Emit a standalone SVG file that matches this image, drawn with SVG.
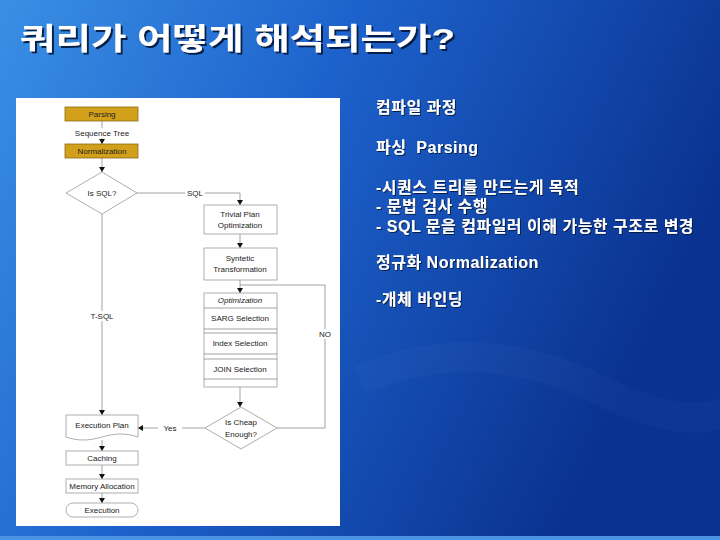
<svg xmlns="http://www.w3.org/2000/svg" width="720" height="540" viewBox="0 0 720 540">
  <defs>
    <linearGradient id="bg" x1="0" y1="0" x2="1" y2="0.35">
      <stop offset="0" stop-color="#3a8fe4"/>
      <stop offset="0.45" stop-color="#1d62cc"/>
      <stop offset="1" stop-color="#0a3290"/>
    </linearGradient>
    <filter id="shadow2" x="-5%" y="-20%" width="110%" height="150%">
      <feDropShadow dx="2" dy="2" stdDeviation="0.6" flood-color="#06143a" flood-opacity="0.9"/>
    </filter>
    <filter id="shadow1" x="-5%" y="-20%" width="110%" height="150%">
      <feDropShadow dx="1" dy="1" stdDeviation="0.4" flood-color="#06143a" flood-opacity="0.9"/>
    </filter>
    <marker id="ah" markerWidth="6" markerHeight="6" refX="5" refY="3" orient="auto" markerUnits="userSpaceOnUse">
      <path d="M0,0 L5,3 L0,6 Z" fill="#111"/>
    </marker>
    <style>
      .title { font-family: "Liberation Sans", "Noto Sans CJK KR", sans-serif; font-size: 30px; font-weight: bold; fill: #ffffff; }
      .body { font-family: "Liberation Sans", "Noto Sans CJK KR", sans-serif; font-size: 16px; font-weight: bold; letter-spacing: 0.5px; white-space: pre; fill: #ffffff; }
      .fc { font-family: "Liberation Sans", Arial, sans-serif; font-size: 8px; fill: #222; text-anchor: middle; dominant-baseline: central; }
      .box { fill: #fff; stroke: #999; stroke-width: 0.8; }
      .gold { fill: #d3a01c; stroke: #8a6a14; stroke-width: 0.8; }
      .conn { fill: none; stroke: #8c8c8c; stroke-width: 0.8; }
      .arr { marker-end: url(#ah); }
      .lblbg { fill: #fff; }
    </style>
  </defs>

  <rect x="0" y="0" width="720" height="540" fill="url(#bg)"/>
  <rect x="0" y="536" width="720" height="4" fill="#4c94e2"/>
  <path d="M360,380 Q480,330 600,390 T760,380" fill="none" stroke="#ffffff" stroke-opacity="0.025" stroke-width="30"/>

  <g id="title" filter="url(#shadow2)">
    <text class="title" x="20" y="49" textLength="435" lengthAdjust="spacingAndGlyphs">쿼리가 어떻게 해석되는가?</text>
  </g>

  <rect id="panel" x="16" y="98" width="324" height="428" fill="#ffffff"/>

  <g id="connectors">
    <path class="conn arr" d="M102,121 V144"/>
    <path class="conn arr" d="M102,158 V172"/>
    <path class="conn arr" d="M137,193 H240 V205"/>
    <path class="conn arr" d="M240,234 V248"/>
    <path class="conn arr" d="M240,280 V293"/>
    <path class="conn arr" d="M240,387 V407"/>
    <path class="conn arr" d="M205,428 H138"/>
    <path class="conn" d="M277,428 H325 V285 H240"/>
    <path class="conn arr" d="M102,214 V415"/>
    <path class="conn arr" d="M102,440 V451"/>
    <path class="conn arr" d="M102,465 V479"/>
    <path class="conn arr" d="M102,493 V503"/>
    <path class="conn arr" d="M240,329 V333"/>
    <path class="conn arr" d="M240,354 V359"/>
    <rect class="lblbg" x="72" y="128" width="60" height="10"/>
    <text class="fc" x="102" y="133">Sequence Tree</text>
    <rect class="lblbg" x="185" y="188" width="20" height="10"/>
    <text class="fc" x="195" y="193">SQL</text>
    <rect class="lblbg" x="88" y="311" width="28" height="10"/>
    <text class="fc" x="102" y="316">T-SQL</text>
    <rect class="lblbg" x="158" y="423" width="24" height="10"/>
    <text class="fc" x="170" y="428">Yes</text>
    <rect class="lblbg" x="316" y="329" width="18" height="10"/>
    <text class="fc" x="325" y="334">NO</text>
  </g>

  <g id="parsing">
    <rect class="gold" x="65" y="107" width="73" height="14"/>
    <text class="fc" x="102" y="114">Parsing</text>
  </g>
  <g id="normalization">
    <rect class="gold" x="65" y="144" width="73" height="14"/>
    <text class="fc" x="102" y="151">Normalization</text>
  </g>
  <g id="is-sql">
    <polygon class="box" points="102,172 137,193 102,214 66,193"/>
    <text class="fc" x="102" y="193">Is SQL?</text>
  </g>
  <g id="trivial-plan">
    <rect class="box" x="204" y="205" width="73" height="29"/>
    <text class="fc" x="240" y="214">Trivial Plan</text>
    <text class="fc" x="240" y="225">Optimization</text>
  </g>
  <g id="syntetic">
    <rect class="box" x="204" y="248" width="73" height="32"/>
    <text class="fc" x="240" y="258">Syntetic</text>
    <text class="fc" x="240" y="269">Transformation</text>
  </g>
  <g id="optimization">
    <rect class="box" x="204" y="293" width="73" height="94"/>
    <line class="conn" x1="204" y1="308" x2="277" y2="308"/>
    <line class="conn" x1="204" y1="329" x2="277" y2="329"/>
    <line class="conn" x1="204" y1="333" x2="277" y2="333"/>
    <line class="conn" x1="204" y1="354" x2="277" y2="354"/>
    <line class="conn" x1="204" y1="359" x2="277" y2="359"/>
    <line class="conn" x1="204" y1="379" x2="277" y2="379"/>
    <text class="fc" x="240" y="300" font-style="italic">Optimization</text>
    <text class="fc" x="240" y="318">SARG Selection</text>
    <text class="fc" x="240" y="343">Index Selection</text>
    <text class="fc" x="240" y="369">JOIN Selection</text>
  </g>
  <g id="is-cheap">
    <polygon class="box" points="241,407 277,428 241,449 205,428"/>
    <text class="fc" x="241" y="422">Is Cheap</text>
    <text class="fc" x="241" y="434">Enough?</text>
  </g>
  <g id="execution-plan">
    <path class="box" d="M66,415 H138 V437 C126,433 116,433 102,437 C88,441 78,441 66,437 Z"/>
    <text class="fc" x="102" y="425">Execution Plan</text>
  </g>
  <g id="caching">
    <rect class="box" x="66" y="451" width="72" height="14"/>
    <text class="fc" x="102" y="458">Caching</text>
  </g>
  <g id="memory-allocation">
    <rect class="box" x="66" y="479" width="72" height="14"/>
    <text class="fc" x="102" y="486">Memory Allocation</text>
  </g>
  <g id="execution">
    <rect class="box" x="66" y="503" width="72" height="14" rx="7" ry="7"/>
    <text class="fc" x="102" y="510">Execution</text>
  </g>

  <g id="notes" filter="url(#shadow1)">
    <text class="body" x="376" y="113">컴파일 과정</text>
    <text class="body" x="376" y="153">파싱  Parsing</text>
    <text class="body" x="376" y="193">-시퀀스 트리를 만드는게 목적</text>
    <text class="body" x="376" y="212">- 문법 검사 수행</text>
    <text class="body" x="376" y="232">- SQL 문을 컴파일러 이해 가능한 구조로 변경</text>
    <text class="body" x="376" y="268">정규화 Normalization</text>
    <text class="body" x="376" y="305">-개체 바인딩</text>
  </g>
</svg>
